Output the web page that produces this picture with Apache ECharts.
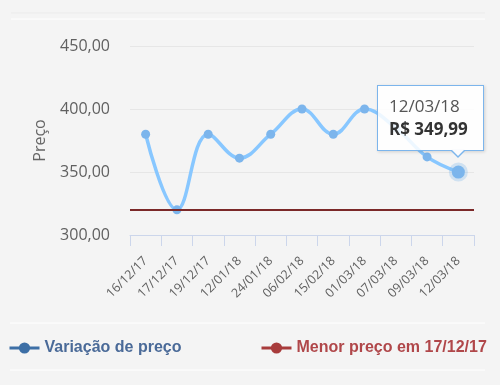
<!DOCTYPE html>
<html>
<head>
<meta charset="utf-8">
<script src="https://cdn.jsdelivr.net/npm/echarts@6/dist/echarts.min.js"></script>
<style>
html,body{margin:0;padding:0;background:#f4f4f4;}
#c{width:500px;height:385px;}
</style>
</head>
<body>
<div id="c"></div>
<script>
var categories = ['16/12/17','17/12/17','19/12/17','12/01/18','24/01/18','06/02/18','15/02/18','01/03/18','07/03/18','09/03/18','12/03/18'];
var prices = [379.99, 319.99, 379.99, 360.99, 379.99, 399.99, 379.99, 399.99, 384.99, 361.99, 349.99];
var lowestPrice = 319.99;
var yTicks = [300, 350, 400, 450];
var seriesNames = ['Variação de preço', 'Menor preço em 17/12/17'];

function fmt(v){ return v.toFixed(2).replace('.', ','); }

var chart = echarts.init(document.getElementById('c'), null, {renderer:'canvas'});
chart.setOption({
  backgroundColor: '#f4f4f4',
  animation: false,
  grid: {left: 130, right: 26, top: 46, bottom: 150},
  graphic: [
    {type:'line', shape:{x1:11,y1:13,x2:485,y2:13}, style:{stroke:'#ebebeb', lineWidth:1}},
    {type:'line', shape:{x1:11,y1:19,x2:485,y2:19}, style:{stroke:'#ffffff', lineWidth:1}},
    {type:'line', shape:{x1:10,y1:323,x2:485,y2:323}, style:{stroke:'#ffffff', lineWidth:1}},
    {type:'line', shape:{x1:10,y1:370,x2:485,y2:370}, style:{stroke:'#ffffff', lineWidth:1}}
  ],
  xAxis: {
    type: 'category',
    data: categories,
    boundaryGap: true,
    axisLine: {lineStyle: {color: '#ccd6eb', width: 1}},
    axisTick: {show: true, length: 11, lineStyle: {color: '#ccd6eb'}},
    axisLabel: {rotate: 45, color: '#606060', fontSize: 12.5, fontFamily: 'Open Sans', margin: 24}
  },
  yAxis: {
    type: 'value',
    min: yTicks[0], max: yTicks[yTicks.length-1], interval: 50,
    name: 'Preço', nameLocation: 'middle', nameGap: 82, nameRotate: 90,
    nameTextStyle: {color: '#666', fontSize: 16, fontFamily: 'Open Sans'},
    axisLine: {show: false},
    axisTick: {show: false},
    splitLine: {lineStyle: {color: '#e6e6e6'}},
    axisLabel: {color: '#606060', fontSize: 16, fontFamily: 'Open Sans', margin: 20, formatter: function(v){ return fmt(v); }}
  },
  legend: [
    {data: [{name: seriesNames[0], itemStyle:{color:'#3d6fa6'}, lineStyle:{color:'#3d6fa6', width:3}, textStyle:{color:'#4a6a98'}}],
     left: 8, top: 340, padding: 0, itemWidth: 30, itemHeight: 14, itemGap: 5,
     textStyle: {fontSize: 16, fontWeight: 'bold', fontFamily: 'Liberation Sans'}},
    {data: [{name: seriesNames[1], itemStyle:{color:'#a83c3c'}, lineStyle:{color:'#a83c3c', width:3}, textStyle:{color:'#b0474a'}}],
     left: 260, top: 340, padding: 0, itemWidth: 30, itemHeight: 14, itemGap: 5,
     textStyle: {fontSize: 16, fontWeight: 'bold', fontFamily: 'Liberation Sans'}}
  ],
  tooltip: {
    trigger: 'item',
    triggerOn: 'none',
    alwaysShowContent: true,
    transitionDuration: 0,
    backgroundColor: 'rgba(255,255,255,0.85)',
    borderColor: '#7cb5ec',
    borderWidth: 1,
    borderRadius: 0,
    padding: [8, 11, 10, 11],
    extraCssText: 'box-shadow:1px 1px 3px rgba(0,0,0,0.15);overflow:visible;width:83px;',
    position: function(point){ return [point[0] - 81, point[1] - 87]; },
    formatter: function(p){
      return '<div style="position:relative;font-family:\'Open Sans\';line-height:23px;white-space:nowrap;">' +
        '<div style="font-size:17px;color:#555;">' + p.name + '</div>' +
        '<div style="font-size:17px;color:#333;font-weight:bold;">R$ ' + fmt(p.value) + '</div>' +
        '<div style="position:absolute;left:61px;bottom:-18px;width:0;height:0;border-left:8px solid transparent;border-right:8px solid transparent;border-top:8px solid #7cb5ec;"></div>' +
        '<div style="position:absolute;left:62px;bottom:-16px;width:0;height:0;border-left:7px solid transparent;border-right:7px solid transparent;border-top:7px solid #fafbfd;"></div>' +
        '</div>';
    }
  },
  series: [
    {
      name: seriesNames[0],
      type: 'line',
      data: prices,
      smooth: 0.4,
      symbol: 'circle',
      symbolSize: 9,
      showAllSymbol: true,
      itemStyle: {color: '#7cb5ec'},
      lineStyle: {color: '#7cb5ec', width: 3.5},
      emphasis: {scale: 1.45, lineStyle: {width: 3.5}, itemStyle: {color:'#7cb5ec', borderColor: 'rgba(124,181,236,0.3)', borderWidth: 6}}
    },
    {
      name: seriesNames[1],
      type: 'line',
      data: [],
      symbol: 'circle',
      symbolSize: 9,
      itemStyle: {color: '#7b2828'},
      lineStyle: {color: '#7b2828', width: 2},
      markLine: {
        silent: true,
        symbol: ['none','none'],
        label: {show: false},
        lineStyle: {color: '#7b2828', width: 2, type: 'solid'},
        data: [{yAxis: lowestPrice}]
      }
    }
  ]
});
chart.dispatchAction({type:'highlight', seriesIndex:0, dataIndex: prices.length-1});
chart.dispatchAction({type:'showTip', seriesIndex:0, dataIndex: prices.length-1});
</script>
</body>
</html>
